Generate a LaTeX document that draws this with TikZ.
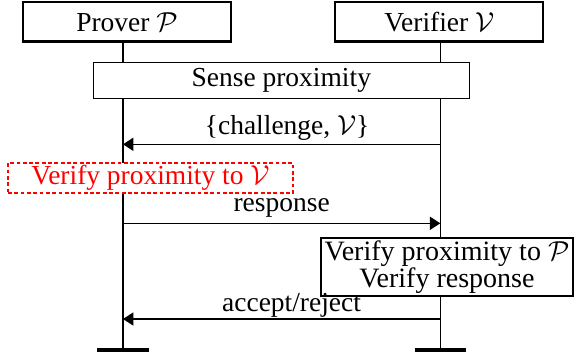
\documentclass[tikz,border=0pt]{standalone}
\usepackage{fontspec}
\setmainfont{Liberation Serif}
\usetikzlibrary{arrows.meta}
\begin{document}
\begin{tikzpicture}[x=0.364pt,y=-0.364pt,
  every node/.style={font=\fontsize{10}{12}\selectfont},
  actor/.style={draw,line width=0.8pt,fill=white,inner sep=0pt,
    minimum width={208*0.364pt},minimum height={39.5*0.364pt}},
  actbox/.style={draw,line width=0.45pt,fill=white,inner sep=0pt,align=center},
  redbox/.style={draw=red,text=red,line width=0.45pt,fill=white,inner sep=0pt,
    dash pattern=on 1.4pt off 0.9pt},
  lifeline/.style={line width=0.45pt},
  endbar/.style={line width=1.2pt},
  msg/.style={line width=0.45pt,-{Triangle[length=3.8pt,width=4.8pt]}},
  lbl/.style={anchor=base,inner sep=0pt}
]
\useasboundingbox (0,0) rectangle (574,356);
% actors
\node[actor] (prover) at (127,21.8) {Prover $\mathcal{P}$};
\node[actor] (verifier) at (439.3,21.8) {Verifier $\mathcal{V}$};
% lifeline ends
\coordinate (pbot) at (123,350);
\coordinate (vbot) at (440.3,350);
\draw[lifeline] (prover.south -| pbot) -- (pbot);
\draw[lifeline] (verifier.south -| vbot) -- (vbot);
\draw[endbar] ([xshift=-26*0.364pt]pbot) -- ([xshift=26*0.364pt]pbot);
\draw[endbar] ([xshift=-25.5*0.364pt]vbot) -- ([xshift=25.5*0.364pt]vbot);
% action boxes
\node[actbox,minimum width={376*0.364pt},minimum height={36*0.364pt}] (sense) at (281.3,80.3) {Sense proximity};
\node[redbox,minimum width={285*0.364pt},minimum height={30*0.364pt}] (verp) at (150.5,178) {Verify proximity to $\mathcal{V}$};
\node[actbox,minimum width={252*0.364pt},minimum height={58*0.364pt},
  font=\fontsize{10.2}{9.6}\selectfont] (verv) at (447,267) {Verify proximity to $\mathcal{P}$\\Verify response};
% message ends
\coordinate (c1v) at (440.3,144.3);
\coordinate (c1p) at (123,144.3);
\coordinate (r1p) at (123,223.3);
\coordinate (r1v) at (440.3,223.3);
\coordinate (a1v) at (440.3,319);
\coordinate (a1p) at (123,319);
\draw[msg] (c1v) -- node[lbl,yshift=3.4pt,xshift=2pt] {\{challenge, $\mathcal{V}$\}} (c1p);
\draw[msg] (r1p) -- node[lbl,yshift=4.3pt] {response} (r1v);
\draw[msg] (a1v) -- node[lbl,yshift=2.7pt,xshift=3.6pt] {accept/reject} (a1p);
\end{tikzpicture}
\end{document}
